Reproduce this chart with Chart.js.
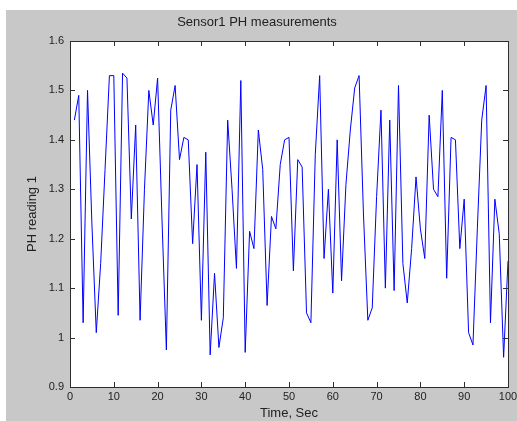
<!DOCTYPE html>
<html>
<head>
<meta charset="utf-8">
<script src="https://cdn.jsdelivr.net/npm/chart.js@4.4.1/dist/chart.umd.min.js"></script>
<style>
  body { margin: 0; background: #ffffff; }
  #wrap { position: absolute; left: 6px; top: 10px; width: 511px; height: 411px; background: #c8c8c8; }
</style>
</head>
<body>
<div id="wrap"><canvas id="phChart" width="511" height="411"></canvas></div>
<script>
// time stamps (sec)
const seconds = [
    1, 2, 3, 4, 5, 6, 7, 8, 9, 10,
    11, 12, 13, 14, 15, 16, 17, 18, 19, 20,
    21, 22, 23, 24, 25, 26, 27, 28, 29, 30,
    31, 32, 33, 34, 35, 36, 37, 38, 39, 40,
    41, 42, 43, 44, 45, 46, 47, 48, 49, 50,
    51, 52, 53, 54, 55, 56, 57, 58, 59, 60,
    61, 62, 63, 64, 65, 66, 67, 68, 69, 70,
    71, 72, 73, 74, 75, 76, 77, 78, 79, 80,
    81, 82, 83, 84, 85, 86, 87, 88, 89, 90,
    91, 92, 93, 94, 95, 96, 97, 98, 99, 100
];

// sensor 1 readings
const phReading = [
    1.44, 1.49, 1.03, 1.50, 1.23, 1.01, 1.15, 1.34, 1.53, 1.53,
    1.045, 1.535, 1.525, 1.24, 1.43, 1.035, 1.30, 1.50, 1.43, 1.525,
    1.24, 0.975, 1.46, 1.51, 1.36, 1.405, 1.40, 1.19, 1.35, 1.035,
    1.375, 0.965, 1.13, 0.98, 1.04, 1.44, 1.30, 1.14, 1.52, 0.97,
    1.215, 1.18, 1.42, 1.34, 1.065, 1.245, 1.22, 1.35, 1.40, 1.405,
    1.135, 1.36, 1.345, 1.05, 1.03, 1.37, 1.53, 1.16, 1.30, 1.09,
    1.40, 1.115, 1.31, 1.42, 1.505, 1.53, 1.25, 1.035, 1.06, 1.285,
    1.46, 1.10, 1.44, 1.095, 1.51, 1.15, 1.07, 1.18, 1.325, 1.22,
    1.16, 1.45, 1.30, 1.285, 1.50, 1.12, 1.405, 1.40, 1.18, 1.28,
    1.01, 0.985, 1.22, 1.44, 1.51, 1.03, 1.28, 1.21, 0.96, 1.155
];

const xTicks = [0, 10, 20, 30, 40, 50, 60, 70, 80, 90, 100];
const yTicks = [0.9, 1.0, 1.1, 1.2, 1.3, 1.4, 1.5, 1.6];

const axisColor = '#2e2e2e';
const textColor = '#222222';
const fontFamily = '"Liberation Sans", Arial, sans-serif';

// white axes box, top/right border and inward tick marks (matlab style)
const matlabBox = {
    id: 'matlabBox',
    beforeDraw(chart) {
        const a = chart.chartArea;
        const ctx = chart.ctx;
        ctx.save();
        ctx.fillStyle = '#ffffff';
        ctx.fillRect(a.left, a.top, a.right - a.left, a.bottom - a.top);
        ctx.restore();
    },
    afterDraw(chart) {
        const a = chart.chartArea;
        const ctx = chart.ctx;
        const xs = chart.scales.x;
        const ys = chart.scales.y;
        const len = 5;
        ctx.save();
        ctx.strokeStyle = axisColor;
        ctx.lineWidth = 1;
        ctx.beginPath();
        ctx.moveTo(a.left, a.top + 0.5);
        ctx.lineTo(a.right + 0.5, a.top + 0.5);
        ctx.lineTo(a.right + 0.5, a.bottom);
        xTicks.forEach(v => {
            const px = Math.round(xs.getPixelForValue(v)) + 0.5;
            ctx.moveTo(px, a.bottom);
            ctx.lineTo(px, a.bottom - len);
            ctx.moveTo(px, a.top);
            ctx.lineTo(px, a.top + len);
        });
        yTicks.forEach(v => {
            const py = Math.round(ys.getPixelForValue(v)) + 0.5;
            ctx.moveTo(a.left, py);
            ctx.lineTo(a.left + len, py);
            ctx.moveTo(a.right, py);
            ctx.lineTo(a.right - len, py);
        });
        ctx.stroke();
        ctx.restore();
    }
};

const points = seconds.map((t, i) => ({ x: t, y: phReading[i] }));

new Chart(document.getElementById('phChart'), {
    type: 'line',
    data: {
        datasets: [{
            label: 'Sensor1',
            data: points,
            borderColor: '#0000ff',
            borderWidth: 1,
            pointRadius: 0,
            tension: 0,
            fill: false
        }]
    },
    options: {
        responsive: false,
        animation: false,
        layout: { padding: { left: 0, right: 9, top: 0, bottom: 0 } },
        plugins: {
            legend: { display: false },
            tooltip: { enabled: false },
            title: {
                display: true,
                text: 'Sensor1 PH measurements',
                color: textColor,
                font: { family: fontFamily, size: 13, weight: 'normal' },
                padding: { top: 5, bottom: 10.4 }
            }
        },
        scales: {
            x: {
                type: 'linear',
                min: 0,
                max: 100,
                afterFit(scale) {
                    scale.height = 34;
                    scale.paddingLeft = 0;
                    scale.paddingRight = 0;
                },
                ticks: {
                    stepSize: 10,
                    color: textColor,
                    font: { family: fontFamily, size: 11 },
                    padding: 3,
                    maxRotation: 0
                },
                grid: { drawOnChartArea: false, drawTicks: false },
                border: { display: true, color: axisColor, width: 1 },
                title: {
                    display: true,
                    text: 'Time, Sec',
                    color: textColor,
                    font: { family: fontFamily, size: 13 },
                    padding: 0
                }
            },
            y: {
                min: 0.9,
                max: 1.6,
                afterFit(scale) {
                    scale.width = 64;
                    scale.paddingTop = 0;
                    scale.paddingBottom = 0;
                },
                ticks: {
                    stepSize: 0.1,
                    color: textColor,
                    font: { family: fontFamily, size: 11 },
                    padding: 6,
                    callback: v => String(+v.toFixed(1))
                },
                grid: { drawOnChartArea: false, drawTicks: false },
                border: { display: true, color: axisColor, width: 1 },
                title: {
                    display: true,
                    text: 'PH reading 1',
                    color: textColor,
                    font: { family: fontFamily, size: 13 },
                    padding: { top: 19, bottom: 0 }
                }
            }
        }
    },
    plugins: [matlabBox]
});
</script>
</body>
</html>
